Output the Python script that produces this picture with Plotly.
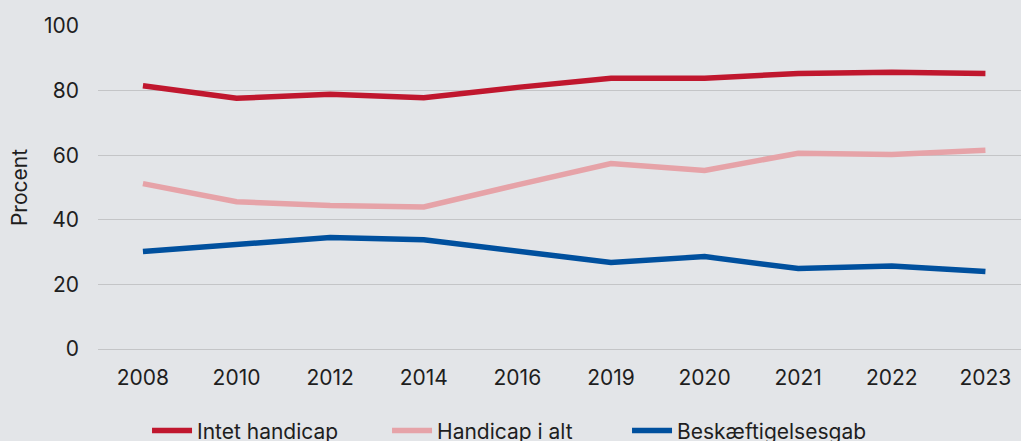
import plotly.graph_objects as go

# Data
years = ["2008", "2010", "2012", "2014", "2016", "2019", "2020", "2021", "2022", "2023"]
intet_handicap = [81.5, 77.6, 78.9, 77.8, 81.0, 83.8, 83.8, 85.3, 85.7, 85.3]
handicap_i_alt = [51.2, 45.6, 44.4, 44.0, 50.8, 57.4, 55.3, 60.6, 60.2, 61.5]
beskaeftigelsesgab = [30.2, 32.4, 34.5, 33.8, 30.1, 26.8, 28.6, 24.9, 25.7, 24.0]

bg = "#e3e5e8"
grid = "#c4c5c7"
font_family = "Inter"

fig = go.Figure()
series = [
    ("Intet handicap", intet_handicap, "#c0172e"),
    ("Handicap i alt", handicap_i_alt, "#e6a3a8"),
    ("Beskæftigelsesgab", beskaeftigelsesgab, "#00509e"),
]
for name, vals, col in series:
    fig.add_trace(go.Scatter(
        x=years, y=vals, name=name, mode="lines",
        line=dict(color=col, width=5.5),
    ))

fig.update_layout(
    width=1021, height=441,
    margin=dict(l=98, r=0, t=26, b=92),
    paper_bgcolor=bg, plot_bgcolor=bg,
    font=dict(family=font_family, size=21, color="#1e1e1e"),
    showlegend=True,
    legend=dict(
        orientation="h", xref="container", x=0.144, xanchor="left",
        yref="container", y=0.023, yanchor="middle",
        font=dict(size=21), itemwidth=40, tracegroupgap=0,
        entrywidth=185, entrywidthmode="pixels",
        bgcolor="rgba(0,0,0,0)",
    ),
)
fig.update_xaxes(
    type="category", range=[-0.48, 9.38],
    showgrid=False, showline=False, zeroline=False,
    ticks="", ticklabelstandoff=14,
)
fig.update_yaxes(
    range=[0, 100], dtick=20,
    showgrid=True, gridcolor=grid, gridwidth=1.3,
    zeroline=True, zerolinecolor=grid, zerolinewidth=1.3,
    showline=False, ticks="",
    ticklabelstandoff=18,
    title=dict(text="Procent", standoff=10, font=dict(size=21)),
)

# no body margin so the figure sits at the window's top-left corner
fig.write_html("out.html", config={"displayModeBar": False},
               post_script="document.body.style.margin='0';")
